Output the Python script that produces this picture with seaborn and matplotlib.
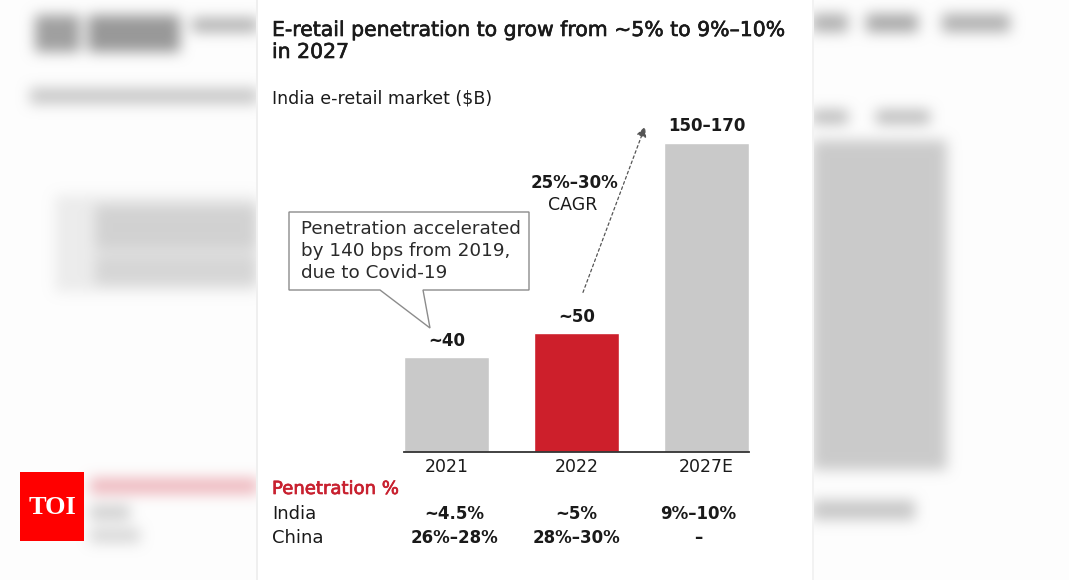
import numpy as np
import pandas as pd
import matplotlib
matplotlib.use("Agg")
import matplotlib.pyplot as plt
import matplotlib.colors as mcolors
import matplotlib.patheffects as pe
import matplotlib.transforms as mtransforms
from matplotlib.patches import Polygon, Rectangle, FancyArrowPatch
import seaborn as sns

# ---------------- data ----------------
years = ["2021", "2022", "2027E"]
market_drawn = [40, 50, 130]          # bar heights as drawn ($B scale of the graphic)
market_labels = ["~40", "~50", "150–170"]
india_pen = ["~4.5%", "~5%", "9%–10%"]
china_pen = ["26%–28%", "28%–30%", "–"]
bar_colors = ["#c9c9c9", "#cd1f2b", "#c9c9c9"]

title_lines = ["E-retail penetration to grow from ~5% to 9%–10%", "in 2027"]
subtitle = "India e-retail market ($B)"
callout_lines = ["Penetration accelerated", "by 140 bps from 2019,", "due to Covid-19"]
cagr_value = "25%–30%"
cagr_label = "CAGR"
table_header = "Penetration %"
row_names = ["India", "China"]

# ---------------- setup ----------------
W, H = 1069, 580
sns.set_theme(style="white")
plt.rcParams['font.family'] = ['DejaVu Sans']

fig = plt.figure(figsize=(W / 100, H / 100), dpi=100)
fig.patch.set_facecolor("white")


def fx(x):
    return x / W


def fy(y):
    return 1 - y / H


DARK = "#1a1a1a"
RED = "#c8202f"

# ---------------- decorative blurred backdrop ----------------
img = np.ones((H, W, 3)) * 0.993


def paint(x0, y0, x1, y1, color):
    img[y0:y1, x0:x1] = np.array(mcolors.to_rgb(color))


paint(35, 15, 80, 52, "#a0a0a0")
paint(88, 15, 180, 52, "#999999")
paint(192, 18, 258, 32, "#b0b0b0")
paint(30, 88, 258, 104, "#c8c8c8")
paint(55, 195, 258, 292, "#ececec")
paint(95, 205, 258, 250, "#d2d2d2")
paint(95, 255, 258, 285, "#d6d6d6")
paint(90, 478, 258, 494, "#eeb8be")
paint(90, 505, 130, 520, "#d0d0d0")
paint(90, 528, 140, 543, "#d8d8d8")
paint(812, 14, 848, 32, "#b0b0b0")
paint(866, 14, 918, 32, "#a8a8a8")
paint(942, 14, 1010, 32, "#b0b0b0")
paint(812, 110, 848, 124, "#bcbcbc")
paint(876, 110, 930, 124, "#bcbcbc")
paint(812, 140, 947, 470, "#cbcbcb")
paint(812, 500, 915, 520, "#c8c8c8")


def blur1d(a, r, axis):
    pad = [(0, 0)] * a.ndim
    pad[axis] = (r + 1, r)
    p = np.pad(a, pad, mode="edge")
    c = np.cumsum(p, axis=axis)
    n = a.shape[axis]
    hi = np.take(c, np.arange(2 * r + 1, 2 * r + 1 + n), axis=axis)
    lo = np.take(c, np.arange(0, n), axis=axis)
    return (hi - lo) / (2 * r + 1)


for _ in range(3):
    img = blur1d(img, 6, 0)
    img = blur1d(img, 6, 1)
img[:, 256:258] = 0.94
img[:, 812:814] = 0.95
img[:, 258:812] = 1.0

bg = fig.add_axes([0, 0, 1, 1], zorder=-10)
bg.imshow(img, extent=[0, W, H, 0], aspect="auto", interpolation="bilinear")
bg.set_axis_off()

# ---------------- bars ----------------
ax = fig.add_axes([fx(404), fy(452), (749 - 404) / W, 357 / H])
df = pd.DataFrame({"year": years, "value": market_drawn})
sns.barplot(data=df, x="year", y="value", hue="year",
            palette=dict(zip(years, bar_colors)), width=0.656,
            saturation=1, legend=False, ax=ax)
ax.set_xlim(-0.328, 2.328)
ax.set_ylim(0, 150)
ax.patch.set_alpha(0)
ax.set_yticks([])
ax.set_xlabel("")
ax.set_ylabel("")
for s in ["left", "right", "top"]:
    ax.spines[s].set_visible(False)
ax.spines["bottom"].set_color("#333333")
ax.spines["bottom"].set_linewidth(1.3)
ax.tick_params(axis="x", length=0, pad=4.5, labelsize=12.5, labelcolor=DARK)

for i, (v, lab) in enumerate(zip(market_drawn, market_labels)):
    ax.annotate(lab, (i, v), xytext=(0, 8), textcoords="offset points",
                ha="center", va="baseline", fontsize=12, fontweight="bold",
                color=DARK, annotation_clip=False)

# ---------------- titles ----------------
stroke = [pe.withStroke(linewidth=0.45, foreground=DARK)]
fig.text(fx(272), fy(36), title_lines[0], fontsize=14.7, color=DARK,
         va="baseline", ha="left", path_effects=stroke)
fig.text(fx(272), fy(58), title_lines[1], fontsize=14.7, color=DARK,
         va="baseline", ha="left", path_effects=stroke)
fig.text(fx(272), fy(104), subtitle, fontsize=12.5, color=DARK,
         va="baseline", ha="left")

# ---------------- callout ----------------
verts_px = [(289, 212), (529, 212), (529, 290), (423, 290), (430, 328),
            (380, 290), (289, 290)]
callout_poly = Polygon([(fx(x), fy(y)) for x, y in verts_px], closed=True,
                       transform=fig.transFigure, facecolor="white",
                       edgecolor="#8c8c8c", linewidth=1.0, zorder=5)
fig.add_artist(callout_poly)
for k, line in enumerate(callout_lines):
    fig.text(fx(301), fy(234 + 22 * k), line, fontsize=13.2, color="#2a2a2a",
             va="baseline", ha="left", zorder=6)

# ---------------- CAGR arrow ----------------
fig.text(fx(574), fy(188), cagr_value, fontsize=12, fontweight="bold",
         color=DARK, ha="center", va="baseline")
fig.text(fx(573), fy(210), cagr_label, fontsize=12.5, color=DARK,
         ha="center", va="baseline")
fig.add_artist(FancyArrowPatch(
    (fx(582), fy(295)), (fx(646), fy(124)), transform=fig.transFigure,
    arrowstyle="-|>,head_length=6,head_width=3", linestyle=(0, (2.2, 2.2)),
    color="#555555", linewidth=0.9, mutation_scale=1))

# ---------------- penetration table ----------------
fig.text(fx(272), fy(494), table_header, fontsize=13, color=RED,
         va="baseline", ha="left",
         path_effects=[pe.withStroke(linewidth=0.5, foreground=RED)])
row_vals = [india_pen, china_pen]
row_base = [519, 543]
trans = mtransforms.blended_transform_factory(ax.transData, fig.transFigure)
for name, vals, yb in zip(row_names, row_vals, row_base):
    fig.text(fx(272), fy(yb), name, fontsize=13, color=DARK,
             va="baseline", ha="left")
    for i, val in enumerate(vals):
        ax.text(i + 0.06 * (1 - i), fy(yb), val, transform=trans, fontsize=12,
                fontweight="bold", color=DARK, ha="center", va="baseline",
                clip_on=False)

# ---------------- TOI logo ----------------
fig.add_artist(Rectangle((fx(20), fy(541)), (84 - 20) / W, (541 - 472) / H,
                         transform=fig.transFigure, facecolor="#ff0000",
                         edgecolor="none"))
fig.text(fx(52), fy(507), "TOI", fontsize=19, fontweight="bold",
         family=["Liberation Serif", "DejaVu Serif"], color="white",
         ha="center", va="center")

fig.savefig("out.png", dpi=100, facecolor="white")
